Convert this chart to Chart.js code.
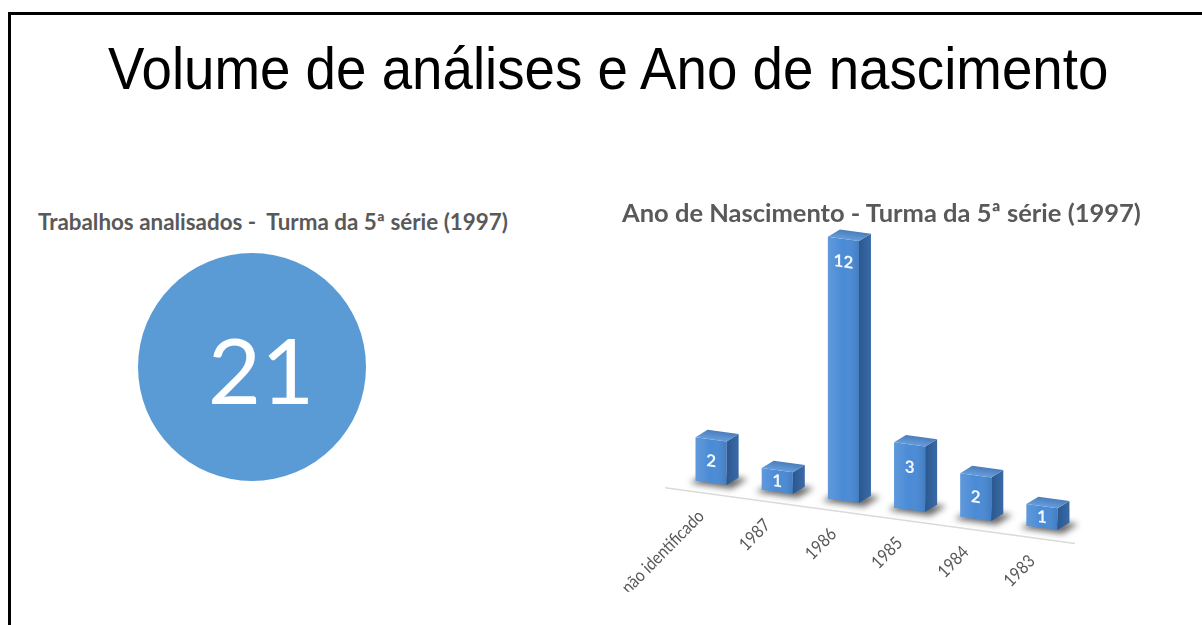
<!DOCTYPE html>
<html>
<head>
<meta charset="utf-8">
<script src="https://cdn.jsdelivr.net/npm/chart.js@4"></script>
<style>
  html, body { margin: 0; padding: 0; background: #fff; width: 1202px; height: 625px; overflow: hidden; }
  .frame { position: absolute; left: 8px; top: 12px; width: 1300px; height: 700px; border: 3px solid #000; box-sizing: border-box; }
  .title { position: absolute; left: 108px; top: 40px; font-family: "Liberation Sans", Arial, sans-serif; font-size: 59px; line-height: 59px; color: #000; white-space: nowrap; transform: scaleX(0.927); transform-origin: left top; }
  .sub { position: absolute; font-family: Lato, sans-serif; font-weight: 700; color: #595959; white-space: pre; line-height: 1.2; z-index: 2; }
  #pieWrap { position: absolute; left: 138px; top: 253px; width: 228px; height: 228px; }
  #barWrap { position: absolute; left: 600px; top: 200px; width: 580px; height: 420px; }
</style>
</head>
<body>
<div class="frame"></div>
<div class="title">Volume de análises e Ano de nascimento</div>
<div class="sub" style="left:38px; top:209px; font-size:22.4px;">Trabalhos analisados -  Turma da 5ª série (1997)</div>
<div class="sub" style="left:622px; top:197px; font-size:25.5px;">Ano de Nascimento - Turma da 5ª série (1997)</div>
<div id="pieWrap"><canvas id="pieChart"></canvas></div>
<div id="barWrap"><canvas id="barChart"></canvas></div>
<script>
// data
const totalLabel = ['Trabalhos analisados'];
const totalValue = [21];
const years = ['não identificado', '1987', '1986', '1985', '1984', '1983'];
const counts = [2, 1, 12, 3, 2, 1];

// big number in the middle of the circle
const centerNumber = {
    id: 'centerNumber',
    afterDraw(chart) {
        const arc = chart.getDatasetMeta(0).data[0];
        const ctx = chart.ctx;
        ctx.save();
        ctx.fillStyle = '#ffffff';
        ctx.font = '400 92px Lato';
        ctx.textAlign = 'center';
        ctx.textBaseline = 'alphabetic';
        ctx.fillText(String(totalValue[0]), arc.x + 9, arc.y + 37);
        ctx.restore();
    }
};

new Chart(document.getElementById('pieChart'), {
    type: 'pie',
    data: {
        labels: totalLabel,
        datasets: [{
            data: totalValue,
            backgroundColor: '#5b9bd5',
            borderWidth: 0,
            hoverOffset: 0
        }]
    },
    options: {
        responsive: true,
        maintainAspectRatio: false,
        animation: false,
        events: [],
        plugins: { legend: { display: false }, tooltip: { enabled: false } }
    },
    plugins: [centerNumber]
});

// fake 3D: skew the whole plot and add side/top faces to each bar
const slope = 0.136;
const depth = { x: 12, y: -9 };

const perspective = {
    id: 'perspective',
    beforeDraw(chart) {
        const ctx = chart.ctx;
        const x0 = chart.scales.x.getPixelForValue(0);
        ctx.save();
        ctx.transform(1, slope, 0, 1, 0, -slope * x0);
    },
    beforeDatasetsDraw(chart) {
        const ctx = chart.ctx;
        const area = chart.chartArea;
        const meta = chart.getDatasetMeta(0);
        ctx.save();
        // floor edge
        ctx.strokeStyle = '#dadada';
        ctx.lineWidth = 1.5;
        ctx.beginPath();
        ctx.moveTo(area.left - 13, area.bottom + 11);
        ctx.lineTo(area.right, area.bottom + 11);
        ctx.stroke();
        // shadows under the bars
        ctx.filter = 'blur(3px)';
        ctx.fillStyle = 'rgba(25,25,25,0.65)';
        meta.data.forEach(bar => {
            const l = bar.x - bar.width / 2, r = bar.x + bar.width / 2;
            ctx.beginPath();
            ctx.moveTo(l - 6, bar.base + 3);
            ctx.lineTo(r + 5, bar.base + 3);
            ctx.lineTo(r + depth.x + 9, bar.base + depth.y);
            ctx.lineTo(l + depth.x, bar.base + depth.y);
            ctx.closePath();
            ctx.fill();
        });
        ctx.restore();
    },
    afterDatasetsDraw(chart) {
        const ctx = chart.ctx;
        const meta = chart.getDatasetMeta(0);
        ctx.save();
        meta.data.forEach((bar, i) => {
            const l = bar.x - bar.width / 2, r = bar.x + bar.width / 2;
            const top = bar.y, base = bar.base;

            // right side
            let g = ctx.createLinearGradient(r, 0, r + depth.x, 0);
            g.addColorStop(0, '#2b5890');
            g.addColorStop(1, '#3a6aa6');
            ctx.fillStyle = g;
            ctx.beginPath();
            ctx.moveTo(r, top);
            ctx.lineTo(r + depth.x, top + depth.y);
            ctx.lineTo(r + depth.x, base + depth.y);
            ctx.lineTo(r, base);
            ctx.closePath();
            ctx.fill();

            // top
            g = ctx.createLinearGradient(0, top + depth.y, 0, top);
            g.addColorStop(0, '#4a7dbb');
            g.addColorStop(1, '#679ddb');
            ctx.fillStyle = g;
            ctx.beginPath();
            ctx.moveTo(l, top);
            ctx.lineTo(l + depth.x, top + depth.y);
            ctx.lineTo(r + depth.x, top + depth.y);
            ctx.lineTo(r, top);
            ctx.closePath();
            ctx.fill();

            // front shading
            g = ctx.createLinearGradient(l, 0, r, 0);
            g.addColorStop(0, 'rgba(255,255,255,0.12)');
            g.addColorStop(0.5, 'rgba(255,255,255,0)');
            g.addColorStop(1, 'rgba(0,0,0,0.10)');
            ctx.fillStyle = g;
            ctx.fillRect(l, top, r - l, base - top);

            // value
            ctx.fillStyle = '#f4f8fc';
            ctx.font = '700 17px Lato';
            ctx.textAlign = 'center';
            ctx.textBaseline = 'middle';
            const ly = Math.min(top + 23, (top + base) / 2);
            ctx.fillText(String(counts[i]), bar.x, ly);
        });
        ctx.restore();
    },
    afterDraw(chart) {
        chart.ctx.restore();
    }
};

new Chart(document.getElementById('barChart'), {
    type: 'bar',
    data: {
        labels: years,
        datasets: [{
            data: counts,
            backgroundColor: '#4a8bd6',
            borderWidth: 0,
            categoryPercentage: 1,
            barPercentage: 0.47
        }]
    },
    options: {
        responsive: true,
        maintainAspectRatio: false,
        animation: false,
        events: [],
        layout: { padding: { left: 78, right: 105, top: 10, bottom: 17 } },
        plugins: { legend: { display: false }, tooltip: { enabled: false } },
        scales: {
            y: { display: false, min: 0, max: 12.5 },
            x: {
                grid: { display: false },
                border: { display: false },
                ticks: {
                    color: '#595959',
                    font: { family: 'Lato', size: 16.5 },
                    minRotation: 49,
                    maxRotation: 49,
                    padding: 17,
                    labelOffset: -10,
                    autoSkip: false
                },
                afterFit(scale) { scale.height = 120; }
            }
        }
    },
    plugins: [perspective]
});
</script>
</body>
</html>
